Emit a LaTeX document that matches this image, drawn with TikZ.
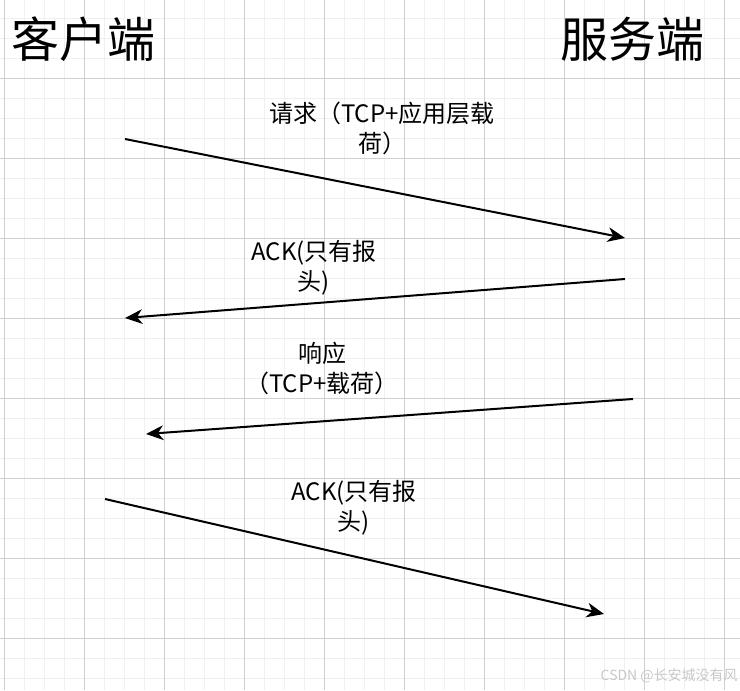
\documentclass[tikz,border=0pt]{standalone}
\usepackage{fontspec}
\setmainfont{Noto Sans CJK SC}
\usetikzlibrary{arrows.meta, positioning}
\definecolor{gridminor}{HTML}{F0F0F0}
\definecolor{gridmajor}{HTML}{D0D0D0}
\definecolor{markgray}{HTML}{C8C8C8}
\tikzset{
  minorline/.style={draw=gridminor, line width=0.75pt},
  majorline/.style={draw=gridmajor, line width=0.75pt},
  title/.style={font=\fontsize{36}{40}\selectfont, inner sep=0pt, text=black},
  msglabel/.style={font=\fontsize{18}{22.5}\selectfont, align=center, inner sep=0pt, text=black},
  arrow/.style={line width=1.5pt, -{Stealth[length=13pt, width=11pt, inset=4pt]}},
  watermark/.style={font=\fontsize{10.5}{12}\selectfont, text=markgray, inner sep=0pt}
}
\begin{document}
\begin{tikzpicture}[x=0.75pt, y=-0.75pt]
  \useasboundingbox (0,0) rectangle (740,690);
  \fill[white] (0,0) rectangle (740,690);

  % Background grid
  \foreach \x in {4,24,...,724} \draw[minorline] (\x,0) -- (\x,690);
  \foreach \y in {18,38,...,678} \draw[minorline] (0,\y) -- (740,\y);
  \foreach \x in {4,84,...,724} \draw[majorline] (\x,0) -- (\x,690);
  \foreach \y in {78,158,...,638} \draw[majorline] (0,\y) -- (740,\y);

  % Titles
  \node (client) [title] at (84,39) {客户端};
  \node (server) [title] at (632,39) {服务端};

  % Arrow end points
  \coordinate (reqa) at (125,139);
  \coordinate (reqb) at (625,238);
  \coordinate (acka) at (625,279);
  \coordinate (ackb) at (125,318);
  \coordinate (respa) at (633,399);
  \coordinate (respb) at (146,434);
  \coordinate (lasta) at (105,499);
  \coordinate (lastb) at (604,614);

  % Messages
  \draw [arrow] (reqa) -- (reqb);
  \draw [arrow] (acka) -- (ackb);
  \draw [arrow] (respa) -- (respb);
  \draw [arrow] (lasta) -- (lastb);

  % Labels
  \node (reqlabel) [msglabel] at (382,128) {请求（TCP+应用层载\\荷）};
  \node (acklabel) [msglabel] at (314,268) {ACK(只有报\\头)};
  \node (resplabel) [msglabel] at (322,368) {响应\\（TCP+载荷）};
  \node (lastlabel) [msglabel] at (354,508) {ACK(只有报\\头)};

  % Watermark
  \node (mark) [watermark, anchor=east] at (738,676) {CSDN @长安城没有风};
\end{tikzpicture}
\end{document}
